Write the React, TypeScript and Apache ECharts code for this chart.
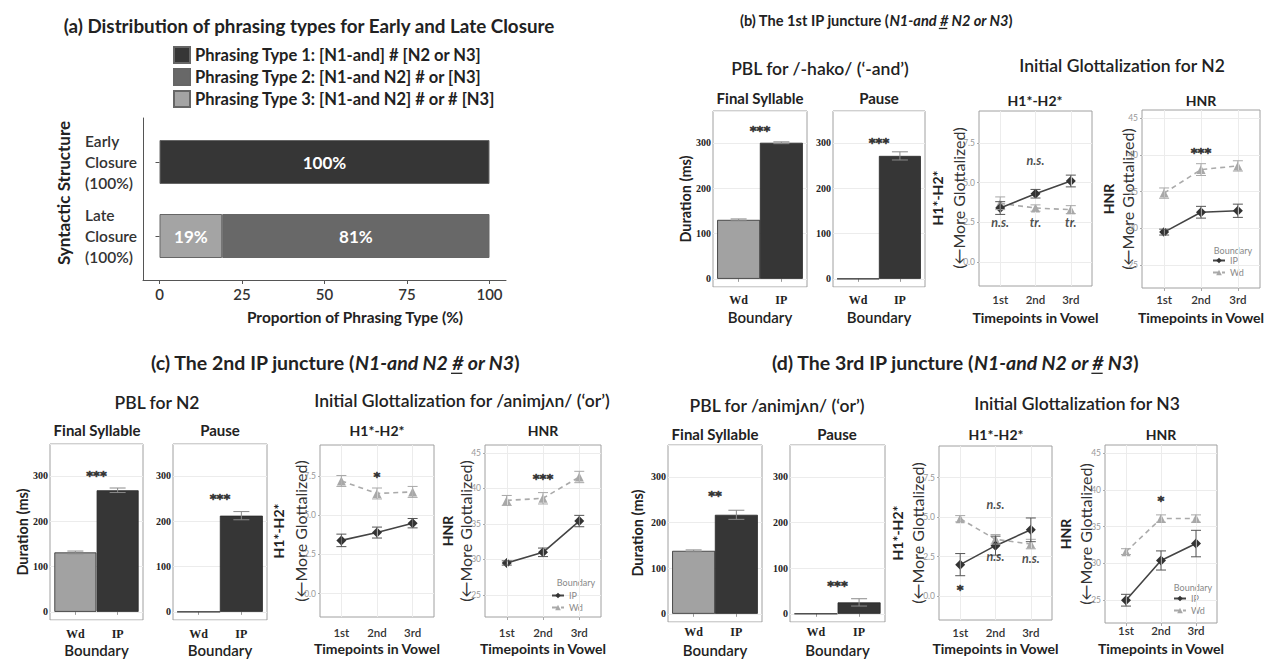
import React, { useEffect, useRef } from "react";
import * as echarts from "echarts";

const SANS = "Lato, 'Open Sans', 'DejaVu Sans', sans-serif";
const SERIF = "'Liberation Serif', 'DejaVu Serif', serif";
const STAR_FONT = "'DejaVu Sans', sans-serif";

// ---------- (a) Distribution of phrasing types ----------
const structureLabels = ["Early\nClosure\n(100%)", "Late\nClosure\n(100%)"];
const phrasingTypeNames = [
  "Phrasing Type 1: [N1-and] # [N2 or N3]",
  "Phrasing Type 2: [N1-and N2] # or [N3]",
  "Phrasing Type 3: [N1-and N2] # or # [N3]",
];
const phrasingType1 = [100, null];
const phrasingType2 = [null, 81];
const phrasingType3 = [null, 19];
const proportionTicks = [0, 25, 50, 75, 100];

const boundaryLabels = ["Wd", "IP"];
const timepointLabels = ["1st", "2nd", "3rd"];
const h1Ticks = [0, 2.5, 5, 7.5];
const hnrTicks = [25, 30, 35, 40, 45];
const durationTicks = [0, 100, 200, 300];

type Ann = { x: number; y: number; text: string };

// ---------- (b) 1st IP juncture ----------
const bFinalMean = [130, 300];
const bFinalSE = [2, 2];
const bPauseMean = [0, 271];
const bPauseSE = [0, 9];
const bH1IP = [3.4, 4.3, 5.1];
const bH1IPse = [0.4, 0.27, 0.37];
const bH1Wd = [3.7, 3.4, 3.3];
const bH1WdSE = [0.4, 0.2, 0.25];
const bHnrIP = [29.5, 32.2, 32.4];
const bHnrIPse = [0.4, 0.8, 0.9];
const bHnrWd = [34.8, 38.0, 38.5];
const bHnrWdSE = [0.7, 0.8, 0.7];
const bFinalAnn: Ann[] = [{ x: 1.5, y: 333, text: "***" }];
const bPauseAnn: Ann[] = [{ x: 1.5, y: 307, text: "***" }];
const bH1Ann: Ann[] = [
  { x: 2, y: 6.4, text: "n.s." },
  { x: 1, y: 2.5, text: "n.s." },
  { x: 2, y: 2.5, text: "tr." },
  { x: 3, y: 2.5, text: "tr." },
];
const bHnrAnn: Ann[] = [{ x: 2, y: 40.7, text: "***" }];

// ---------- (c) 2nd IP juncture ----------
const cFinalMean = [131, 268];
const cFinalSE = [3, 5];
const cPauseMean = [0, 212];
const cPauseSE = [0, 9];
const cH1IP = [3.4, 3.9, 4.5];
const cH1IPse = [0.4, 0.35, 0.3];
const cH1Wd = [7.2, 6.4, 6.5];
const cH1WdSE = [0.35, 0.35, 0.35];
const cHnrIP = [29.5, 31.0, 35.4];
const cHnrIPse = [0.3, 0.6, 0.8];
const cHnrWd = [38.3, 38.6, 41.6];
const cHnrWdSE = [0.7, 0.8, 0.8];
const cFinalAnn: Ann[] = [{ x: 1.5, y: 307, text: "***" }];
const cPauseAnn: Ann[] = [{ x: 1.5, y: 257, text: "***" }];
const cH1Ann: Ann[] = [{ x: 2, y: 7.7, text: "*" }];
const cHnrAnn: Ann[] = [{ x: 2, y: 41.8, text: "***" }];

// ---------- (d) 3rd IP juncture ----------
const dFinalMean = [138, 217];
const dFinalSE = [2, 10];
const dPauseMean = [0, 25];
const dPauseSE = [0, 8];
const dH1IP = [2.0, 3.2, 4.2];
const dH1IPse = [0.7, 0.6, 0.75];
const dH1Wd = [4.9, 3.6, 3.3];
const dH1WdSE = [0.2, 0.3, 0.3];
const dHnrIP = [25.0, 30.4, 32.7];
const dHnrIPse = [0.8, 1.3, 1.8];
const dHnrWd = [31.6, 36.1, 36.1];
const dHnrWdSE = [0.4, 0.5, 0.5];
const dFinalAnn: Ann[] = [{ x: 1.5, y: 265, text: "**" }];
const dPauseAnn: Ann[] = [{ x: 1.5, y: 68, text: "***" }];
const dH1Ann: Ann[] = [
  { x: 2, y: 5.8, text: "n.s." },
  { x: 2, y: 2.5, text: "n.s." },
  { x: 3, y: 2.4, text: "n.s." },
  { x: 1, y: 0.6, text: "*" },
];
const dHnrAnn: Ann[] = [{ x: 2, y: 38.9, text: "*" }];

function buildOption() {
  const grids: any[] = [];
  const xAxes: any[] = [];
  const yAxes: any[] = [];
  const series: any[] = [];
  const legends: any[] = [];
  const graphics: any[] = [];

  const ctx = document.createElement("canvas").getContext("2d")!;
  const measure = (t: string, font: string) => {
    ctx.font = font;
    return ctx.measureText(t).width;
  };

  const addGrid = (box: number[], extra: any = {}) => {
    grids.push({ left: box[0], top: box[1], width: box[2], height: box[3], ...extra });
    return grids.length - 1;
  };

  const txt = (x: number, y: number, text: string, size: number, weight: any = "normal", extra: any = {}) => ({
    type: "text",
    x,
    y,
    silent: true,
    style: {
      text,
      fontSize: size,
      fontWeight: weight,
      fontFamily: SANS,
      fill: "#222",
      align: "center",
      verticalAlign: "middle",
      ...extra,
    },
  });
  const vtxt = (x: number, y: number, text: string, size: number, weight: any = "normal", extra: any = {}) => ({
    ...txt(x, y, text, size, weight, extra),
    rotation: Math.PI / 2,
  });
  // Title with italic part and an underlined "#"
  const title = (x: number, y: number, plain: string, ital1: string, ital2: string, size: number) => {
    const it = { fontStyle: "italic", fontWeight: "bold", fontSize: size, fontFamily: SANS, fill: "#222" };
    graphics.push(txt(x, y, `${plain}({i|${ital1}#${ital2}})`, size, "bold", { rich: { i: it } }));
    const fb = `bold ${size}px ${SANS}`;
    const fi = `italic bold ${size}px ${SANS}`;
    const w0 = measure(plain + "(", fb);
    const w1 = measure(ital1, fi);
    const wh = measure("#", fi);
    const w2 = measure(ital2, fi);
    const w3 = measure(")", fb);
    const left = x - (w0 + w1 + wh + w2 + w3) / 2;
    const ux = left + w0 + w1;
    const uy = y + size * 0.58;
    graphics.push({
      type: "line",
      silent: true,
      shape: { x1: ux - 1, y1: uy, x2: ux + wh - 1, y2: uy },
      style: { stroke: "#222", lineWidth: 1.3 },
    });
  };

  const errSeries = (gi: number, mean: number[], se: number[], color: string, half: number, width = 1) => ({
    type: "custom",
    xAxisIndex: gi,
    yAxisIndex: gi,
    silent: true,
    z: 5,
    data: mean.map((m, i) => [i + 1, m - se[i], m + se[i]]),
    encode: { x: 0, y: [1, 2] },
    renderItem: (_p: any, api: any) => {
      const x = api.value(0);
      const lo = api.value(1);
      const hi = api.value(2);
      if (hi - lo <= 0) return null;
      const a = api.coord([x, lo]);
      const b = api.coord([x, hi]);
      const st = { stroke: color, lineWidth: width };
      return {
        type: "group",
        children: [
          { type: "line", shape: { x1: a[0], y1: a[1], x2: b[0], y2: b[1] }, style: st },
          { type: "line", shape: { x1: a[0] - half, y1: a[1], x2: a[0] + half, y2: a[1] }, style: st },
          { type: "line", shape: { x1: b[0] - half, y1: b[1], x2: b[0] + half, y2: b[1] }, style: st },
        ],
      };
    },
  });

  const annSeries = (gi: number, ann: Ann[]) => ({
    type: "scatter",
    xAxisIndex: gi,
    yAxisIndex: gi,
    silent: true,
    symbolSize: 1,
    itemStyle: { color: "rgba(0,0,0,0)" },
    z: 6,
    data: ann.map((a) => {
      const isStar = a.text.indexOf("*") >= 0;
      return {
        value: [a.x, a.y],
        name: a.text,
        label: isStar
          ? {
              fontSize: 13,
              fontFamily: STAR_FONT,
              fontStyle: "normal",
              offset: [0, 3],
              color: "#1a1a1a",
              textBorderColor: "#1a1a1a",
              textBorderWidth: 0.7,
            }
          : { fontSize: 12.5, fontFamily: SANS, fontStyle: "italic", color: "#222" },
      };
    }),
    label: {
      show: true,
      position: "inside",
      formatter: "{b}",
      fontWeight: "bold",
      color: "#222",
    },
  });

  const barPanel = (box: number[], mean: number[], se: number[], ann: Ann[], labelY: number, nameY: number) => {
    const gi = addGrid(box, { show: true, borderColor: "#a0a0a0", borderWidth: 1 });
    const bottom = box[1] + box[3];
    xAxes.push({
      gridIndex: gi,
      type: "value",
      min: 0.4,
      max: 2.6,
      axisLine: { show: false },
      splitLine: { show: false },
      axisTick: { show: true, customValues: [1, 2], length: 3, lineStyle: { color: "#999" } },
      axisLabel: {
        customValues: [1, 2],
        formatter: (v: number) => boundaryLabels[Math.round(v) - 1],
        fontFamily: SERIF,
        fontWeight: "bold",
        fontSize: 12,
        color: "#222",
        margin: labelY - 6 - bottom,
      },
      name: "Boundary",
      nameLocation: "middle",
      nameGap: nameY - 7.5 - bottom,
      nameTextStyle: { fontFamily: SANS, fontSize: 15, fontWeight: 600, color: "#222" },
    });
    yAxes.push({
      gridIndex: gi,
      type: "value",
      min: -18,
      max: 370,
      minInterval: 100,
      maxInterval: 100,
      axisLine: { show: false },
      axisTick: { show: false },
      axisLabel: {
        customValues: durationTicks,
        fontFamily: SERIF,
        fontWeight: "bold",
        fontSize: 10,
        color: "#222",
        margin: 2,
      },
      splitLine: { show: true, lineStyle: { color: "#ececec", width: 1 } },
    });
    series.push({
      type: "bar",
      name: "duration",
      xAxisIndex: gi,
      yAxisIndex: gi,
      barWidth: Math.round(box[2] / 2.2),
      data: mean.map((m, i) => ({ value: [i + 1, m], itemStyle: { color: i === 0 ? "#a2a2a2" : "#363636" } })),
      itemStyle: { borderColor: "#2a2a2a", borderWidth: 0.8 },
      z: 2,
    });
    series.push(errSeries(gi, mean, se, "#8a8a8a", 8));
    series.push(annSeries(gi, ann));
  };

  const linePanel = (
    box: number[],
    isH1: boolean,
    ip: number[],
    ipSe: number[],
    wd: number[],
    wdSe: number[],
    ann: Ann[],
    labelY: number,
    nameY: number,
    legendPos?: number[]
  ) => {
    const gi = addGrid(box, { show: true, borderColor: "#a0a0a0", borderWidth: 1 });
    const bottom = box[1] + box[3];
    const ticks = isH1 ? h1Ticks : hnrTicks;
    xAxes.push({
      gridIndex: gi,
      type: "value",
      min: 0.4,
      max: 3.6,
      axisLine: { show: false },
      splitLine: { show: false },
      axisTick: { show: true, customValues: [1, 2, 3], length: 3, lineStyle: { color: "#aaa" } },
      axisLabel: {
        customValues: [1, 2, 3],
        formatter: (v: number) => timepointLabels[Math.round(v) - 1],
        fontFamily: SANS,
        fontSize: 11.5,
        fontWeight: 600,
        color: "#333",
        margin: labelY - 5.5 - bottom,
      },
      name: "Timepoints in Vowel",
      nameLocation: "middle",
      nameGap: nameY - 7 - bottom,
      nameTextStyle: { fontFamily: SANS, fontWeight: "bold", fontSize: 14, color: "#222" },
    });
    yAxes.push({
      gridIndex: gi,
      type: "value",
      min: isH1 ? -1.5 : 21.9,
      max: isH1 ? 9.5 : 46.1,
      minInterval: isH1 ? 2.5 : 5,
      maxInterval: isH1 ? 2.5 : 5,
      axisLine: { show: false },
      axisTick: { show: true, customValues: ticks, length: 2, lineStyle: { color: "#aaa" } },
      axisLabel: {
        customValues: ticks,
        formatter: (v: number) => (isH1 ? v.toFixed(1) : String(v)),
        fontFamily: SANS,
        fontSize: 8.5,
        color: "#999",
        margin: 4,
      },
      splitLine: { show: true, lineStyle: { color: "#ececec", width: 1 } },
    });
    series.push({
      type: "line",
      name: "Wd",
      xAxisIndex: gi,
      yAxisIndex: gi,
      data: wd.map((v, i) => [i + 1, v]),
      symbol: "triangle",
      symbolSize: 9,
      itemStyle: { color: "#a8a8a8" },
      lineStyle: { color: "#aaaaaa", width: 1.6, type: [5, 4] },
      z: 3,
      markLine: {
        silent: true,
        symbol: "none",
        label: { show: false },
        lineStyle: { color: "#ececec", type: "solid", width: 1 },
        data: [1, 2, 3].map((v) => ({ xAxis: v })),
      },
    });
    series.push({
      type: "line",
      name: "IP",
      xAxisIndex: gi,
      yAxisIndex: gi,
      data: ip.map((v, i) => [i + 1, v]),
      symbol: "diamond",
      symbolSize: 10,
      itemStyle: { color: "#333" },
      lineStyle: { color: "#444", width: 1.6 },
      z: 4,
    });
    series.push(errSeries(gi, wd, wdSe, "#a8a8a8", 5));
    series.push(errSeries(gi, ip, ipSe, "#555", 5));
    series.push(annSeries(gi, ann));
    if (legendPos) {
      legends.push({
        data: ["IP", "Wd"],
        orient: "vertical",
        left: legendPos[0],
        top: legendPos[1],
        itemWidth: 12,
        itemHeight: 7,
        itemGap: 3,
        padding: 0,
        selectedMode: false,
        textStyle: { fontSize: 9, color: "#888", fontFamily: SANS },
      });
    }
  };

  // ---------- (a) ----------
  const ga = addGrid([143, 125, 363, 148]);
  xAxes.push({
    gridIndex: ga,
    type: "value",
    min: -5,
    max: 105,
    offset: 7,
    axisLine: { show: true, lineStyle: { color: "#555" } },
    axisTick: { show: true, customValues: proportionTicks, length: 4, lineStyle: { color: "#555" } },
    axisLabel: { customValues: proportionTicks, fontFamily: SANS, fontSize: 15, fontWeight: 600, color: "#333", margin: 6 },
    splitLine: { show: false },
  });
  yAxes.push({
    gridIndex: ga,
    type: "category",
    data: structureLabels,
    inverse: true,
    axisLine: { show: false },
    axisTick: { show: true, alignWithLabel: true, length: 4, lineStyle: { color: "#555" } },
    axisLabel: { align: "left", margin: 58, fontFamily: SANS, fontSize: 15.5, fontWeight: 600, lineHeight: 21, color: "#333" },
  });
  const ga2 = addGrid([143, 118, 363, 162]);
  xAxes.push({ gridIndex: ga2, type: "value", show: false });
  yAxes.push({
    gridIndex: ga2,
    type: "value",
    axisLine: { show: true, onZero: false, lineStyle: { color: "#555" } },
    axisTick: { show: false },
    axisLabel: { show: false },
    splitLine: { show: false },
  });
  const typeColors = ["#363636", "#686868", "#a4a4a4"];
  const typeData = [phrasingType1, phrasingType2, phrasingType3];
  [2, 1, 0].forEach((k) => {
    series.push({
      type: "bar",
      name: phrasingTypeNames[k],
      xAxisIndex: ga,
      yAxisIndex: ga,
      stack: "phr",
      barWidth: 44,
      data: typeData[k].map((v) => (v == null ? "-" : v)),
      itemStyle: { color: typeColors[k], borderColor: "#666", borderWidth: 1 },
      label: {
        show: true,
        position: "inside",
        formatter: (p: any) => `${p.value}%`,
        color: "#fff",
        fontWeight: "bold",
        fontSize: 17,
        fontFamily: SANS,
      },
    });
  });
  legends.push({
    data: phrasingTypeNames,
    orient: "vertical",
    left: 173,
    top: 46,
    itemWidth: 16,
    itemHeight: 16,
    itemGap: 4,
    padding: 0,
    icon: "rect",
    selectedMode: false,
    textStyle: { fontSize: 16.5, fontWeight: "bold", color: "#222", fontFamily: SANS },
  });
  graphics.push(txt(309, 25, "(a) Distribution of phrasing types for Early and Late Closure", 18.8, "bold"));
  graphics.push(vtxt(63, 193, "Syntactic Structure", 17, "bold"));
  graphics.push(txt(355, 317, "Proportion of Phrasing Type (%)", 15.4, "bold"));

  const SUB = 600;
  // ---------- (b) ----------
  barPanel([713, 111, 94, 176], bFinalMean, bFinalSE, bFinalAnn, 300, 317);
  barPanel([833, 111, 92, 176], bPauseMean, bPauseSE, bPauseAnn, 300, 317);
  linePanel([979, 111, 113, 175], true, bH1IP, bH1IPse, bH1Wd, bH1WdSE, bH1Ann, 299, 317);
  linePanel([1142, 110, 118, 178], false, bHnrIP, bHnrIPse, bHnrWd, bHnrWdSE, bHnrAnn, 299, 317, [1212, 256]);
  title(876, 20, "(b) The 1st IP juncture ", "N1-and ", " N2 or N3", 14.6);
  graphics.push(txt(820, 68, "PBL for /-hako/ (\u2018-and\u2019)", 17.5, SUB));
  graphics.push(txt(760, 98, "Final Syllable", 15, "bold"));
  graphics.push(txt(879, 98, "Pause", 15, "bold"));
  graphics.push(txt(1122, 65, "Initial Glottalization for N2", 17.5, SUB));
  graphics.push(txt(1035, 100, "H1*-H2*", 14, "bold"));
  graphics.push(txt(1201, 100, "HNR", 14, "bold"));
  graphics.push(vtxt(685, 199, "Duration (ms)", 14.5, "bold"));
  graphics.push(vtxt(937, 198, "H1*-H2*", 14, "bold"));
  graphics.push(vtxt(958, 198, "(\u2190More Glottalized)", 16, "normal", { fill: "#333" }));
  graphics.push(vtxt(1108, 199, "HNR", 14, "bold"));
  graphics.push(vtxt(1127, 199, "(\u2190More Glottalized)", 16, "normal", { fill: "#333" }));
  graphics.push(txt(1233, 250, "Boundary", 9, "normal", { fill: "#888" }));

  // ---------- (c) ----------
  barPanel([50, 444, 93, 176], cFinalMean, cFinalSE, cFinalAnn, 634, 650);
  barPanel([173, 444, 94, 176], cPauseMean, cPauseSE, cPauseAnn, 634, 650);
  linePanel([320, 445, 114, 172], true, cH1IP, cH1IPse, cH1Wd, cH1WdSE, cH1Ann, 632, 648);
  linePanel([485, 445, 116, 172], false, cHnrIP, cHnrIPse, cHnrWd, cHnrWdSE, cHnrAnn, 632, 648, [551, 591]);
  title(335, 362, "(c) The 2nd IP juncture ", "N1-and N2 ", " or N3", 19.5);
  graphics.push(txt(157, 402, "PBL for N2", 17.5, SUB));
  graphics.push(txt(97, 430, "Final Syllable", 15, "bold"));
  graphics.push(txt(220, 430, "Pause", 15, "bold"));
  graphics.push(txt(462, 400, "Initial Glottalization for /animj\u028Cn/ (\u2018or\u2019)", 17.5, SUB));
  graphics.push(txt(377, 430, "H1*-H2*", 14, "bold"));
  graphics.push(txt(543, 430, "HNR", 14, "bold"));
  graphics.push(vtxt(22, 532, "Duration (ms)", 14.5, "bold"));
  graphics.push(vtxt(278, 531, "H1*-H2*", 14, "bold"));
  graphics.push(vtxt(300, 531, "(\u2190More Glottalized)", 16, "normal", { fill: "#333" }));
  graphics.push(vtxt(447, 531, "HNR", 14, "bold"));
  graphics.push(vtxt(465, 531, "(\u2190More Glottalized)", 16, "normal", { fill: "#333" }));
  graphics.push(txt(576, 582, "Boundary", 9, "normal", { fill: "#888" }));

  // ---------- (d) ----------
  barPanel([668, 445, 94, 177], dFinalMean, dFinalSE, dFinalAnn, 632, 650);
  barPanel([790, 445, 95, 177], dPauseMean, dPauseSE, dPauseAnn, 632, 650);
  linePanel([939, 446, 113, 174], true, dH1IP, dH1IPse, dH1Wd, dH1WdSE, dH1Ann, 632, 648);
  linePanel([1105, 445, 112, 178], false, dHnrIP, dHnrIPse, dHnrWd, dHnrWdSE, dHnrAnn, 630, 648, [1173, 594]);
  title(955, 362, "(d) The 3rd IP juncture ", "N1-and N2 or ", " N3", 19.5);
  graphics.push(txt(777, 405, "PBL for /animj\u028Cn/ (\u2018or\u2019)", 17.5, SUB));
  graphics.push(txt(715, 434, "Final Syllable", 15, "bold"));
  graphics.push(txt(837, 434, "Pause", 15, "bold"));
  graphics.push(txt(1077, 403, "Initial Glottalization for N3", 17.5, SUB));
  graphics.push(txt(996, 434, "H1*-H2*", 14, "bold"));
  graphics.push(txt(1161, 434, "HNR", 14, "bold"));
  graphics.push(vtxt(637, 533, "Duration (ms)", 14.5, "bold"));
  graphics.push(vtxt(897, 533, "H1*-H2*", 14, "bold"));
  graphics.push(vtxt(917, 533, "(\u2190More Glottalized)", 16, "normal", { fill: "#333" }));
  graphics.push(vtxt(1065, 534, "HNR", 14, "bold"));
  graphics.push(vtxt(1085, 534, "(\u2190More Glottalized)", 16, "normal", { fill: "#333" }));
  graphics.push(txt(1193, 587, "Boundary", 9, "normal", { fill: "#888" }));

  return {
    animation: false,
    backgroundColor: "#fff",
    textStyle: { fontFamily: SANS },
    grid: grids,
    xAxis: xAxes,
    yAxis: yAxes,
    legend: legends,
    series,
    graphic: { elements: graphics },
  };
}

export default function App() {
  const ref = useRef<HTMLDivElement>(null);
  useEffect(() => {
    document.body.style.margin = "0";
    const chart = echarts.init(ref.current!, null, { renderer: "svg" });
    chart.setOption(buildOption() as any);
    return () => chart.dispose();
  }, []);
  return (
    <div
      ref={ref}
      style={{ position: "absolute", left: 0, top: 0, width: 1277, height: 659, background: "#fff" }}
    />
  );
}
